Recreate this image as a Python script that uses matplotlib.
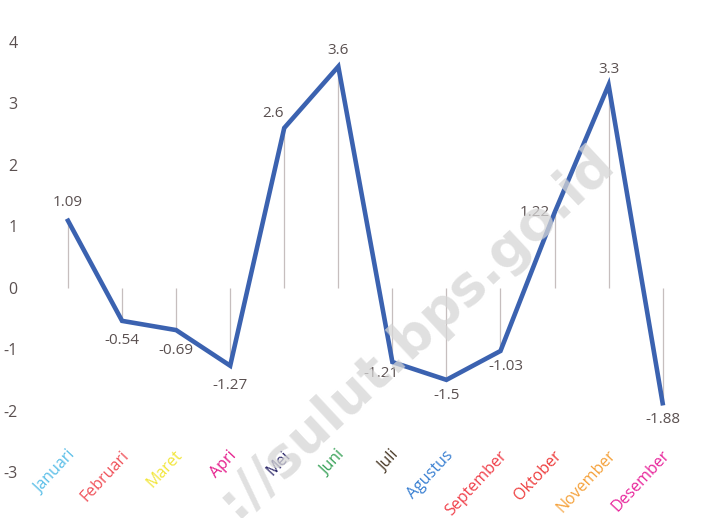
from matplotlib import pyplot as plt
import numpy as np

months = ['Januari', 'Februari', 'Maret', 'Apri', 'Mei', 'Juni', 'Juli',
          'Agustus', 'September', 'Oktober', 'November', 'Desember']
values = [1.09, -0.54, -0.69, -1.27, 2.6, 3.6, -1.21, -1.5, -1.03, 1.22, 3.3, -1.88]
value_labels = ['1.09', '-0.54', '-0.69', '-1.27', '2.6', '3.6', '-1.21',
                '-1.5', '-1.03', '1.22', '3.3', '-1.88']
month_colors = ['#5bbfe8', '#f0525a', '#f2e63c', '#e51e8c', '#2f2a6b', '#3aa35a',
                '#4a3a28', '#3a80d2', '#f0424c', '#ee3e3e', '#f5a23c', '#e8289c']
# label offsets in points (dx, dy, ha, va)
label_pos = [(0, 8, 'center', 'bottom'), (0, -9, 'center', 'top'), (0, -9, 'center', 'top'),
             (0, -9, 'center', 'top'), (-8, 5, 'center', 'bottom'), (0, 6, 'center', 'bottom'),
             (-8, -3, 'center', 'top'), (0, -6, 'center', 'top'), (4, -6, 'center', 'top'),
             (-14, 0, 'center', 'center'), (0, 6, 'center', 'bottom'), (0, -6, 'center', 'top')]

fig = plt.figure(figsize=(7.24, 5.18), dpi=100)
ax = fig.add_axes([0.0566, 0.0888, 0.896, 0.8302])
x = np.arange(len(months))

# drop lines from zero to each point
ax.vlines(x, 0, values, colors='#c6bebe', linewidth=0.9, zorder=1)
ax.plot(x, values, color='#3b62b0', linewidth=3.3, zorder=3, solid_joinstyle='miter')

for xi, v, lab, (dx, dy, ha, va) in zip(x, values, value_labels, label_pos):
    ax.annotate(lab, (xi, v), xytext=(dx, dy), textcoords='offset points',
                ha=ha, va=va, fontsize=11, color='#5a5050', family='Open Sans', zorder=4)

ax.set_xlim(-0.5, 11.5)
ax.set_ylim(-3, 4)
ax.set_yticks(range(-3, 5))
ax.set_yticklabels([str(t) for t in range(-3, 5)], fontsize=11.5, color='#5a5050', family='Open Sans')
ax.tick_params(axis='y', length=0, pad=17)
ax.set_xticks([])

# rotated month names, colored individually
for xi, name, c in zip(x, months, month_colors):
    ax.text(xi + 0.08, -2.69, name, rotation=47, rotation_mode='anchor', ha='right', va='center',
            fontsize=11.5, color=c, family='Open Sans', clip_on=False)

for s in ax.spines.values():
    s.set_visible(False)

# watermark
fig.text(0.575, 0.36, '://sulut.bps.go.id', fontsize=39, fontweight='bold', color='#d6d6d6',
         rotation=43, ha='center', va='center', alpha=0.75, zorder=0, family='DejaVu Sans')

plt.savefig('out.png')
